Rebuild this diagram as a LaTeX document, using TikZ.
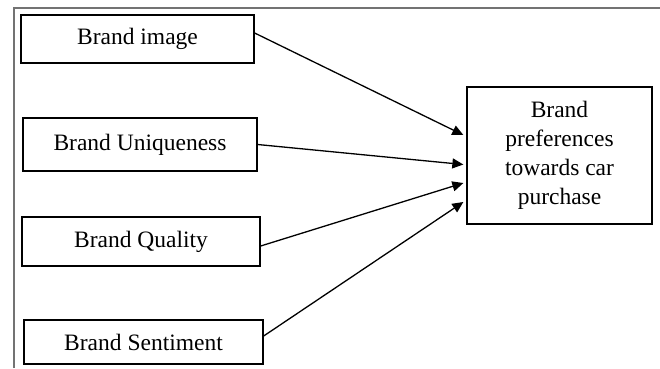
\documentclass[tikz,border=0pt]{standalone}
\usepackage{fontspec}
\setmainfont{Liberation Serif}
\usetikzlibrary{arrows.meta}
\begin{document}
\begin{tikzpicture}[x=1pt,y=-1pt,
  every node/.style={font=\fontsize{23.5}{29}\selectfont},
  factor/.style={draw=black,line width=1.3pt,rectangle,inner sep=0pt,align=center},
  outcome/.style={draw=black,line width=1.3pt,rectangle,inner sep=0pt,align=center},
  link/.style={draw=black,line width=1.3pt,-{Triangle[length=11pt,width=10pt]}},
  frame/.style={draw=black!55,line width=1.2pt}]
\useasboundingbox (0,0) rectangle (660,368);
\draw[frame] (14,368) -- (14,8) -- (660,8);
\node[factor,minimum width=233pt,minimum height=48pt] (b1) at (137.5,39) {Brand image};
\node[factor,minimum width=234pt,minimum height=53pt] (b2) at (140,144.5) {Brand Uniqueness};
\node[factor,minimum width=238pt,minimum height=49pt] (b3) at (141,241.5) {Brand Quality};
\node[factor,minimum width=239pt,minimum height=44pt] (b4) at (143.5,342) {Brand Sentiment};
\node[outcome,minimum width=185pt,minimum height=137pt] (bp) at (559.5,155.5) {Brand\\preferences\\towards car\\purchase};
\draw[link] ([yshift=6pt]b1.east) -- ([yshift=20.5pt,xshift=-3pt]bp.west);
\draw[link] (b2.east) -- ([yshift=-9pt,xshift=-3pt]bp.west);
\draw[link] ([yshift=-4.5pt]b3.east) -- ([yshift=-27.5pt,xshift=-3pt]bp.west);
\draw[link] ([yshift=6pt]b4.east) -- ([yshift=-46.5pt,xshift=-3pt]bp.west);
\end{tikzpicture}
\end{document}
